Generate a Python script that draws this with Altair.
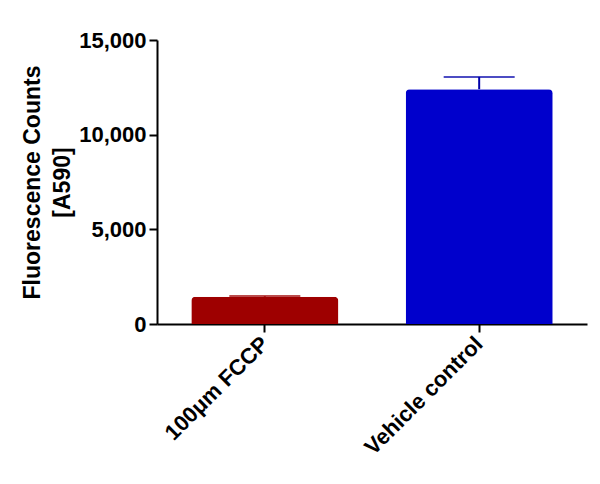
import altair as alt
import pandas as pd

categories = ["100μm FCCP", "Vehicle control"]
means = [1440, 12400]
sems = [35, 650]
colors = ["#9E0000", "#0000CC"]
err_colors = ["#9E0000", "#0000AA"]

df = pd.DataFrame({
    "cat": categories,
    "mean": means,
    "top": [m + s for m, s in zip(means, sems)],
    "color": colors,
    "ecolor": err_colors,
})

FONT = "Liberation Sans"

x_enc = alt.X("cat:N", sort=categories, title=None,
              scale=alt.Scale(paddingInner=0.314, paddingOuter=0.16),
              axis=alt.Axis(labelAngle=-45, labelAlign="right", labelBaseline="middle",
                            labelPadding=8, tickSize=8))

y_scale = alt.Scale(domain=[0, 15000], nice=False)

base = alt.Chart(df)

bars = base.mark_bar(cornerRadiusTopLeft=4, cornerRadiusTopRight=4).encode(
    x=x_enc,
    y=alt.Y("mean:Q", scale=y_scale,
            title=["Fluorescence Counts", "[A590]"],
            axis=alt.Axis(values=[0, 5000, 10000, 15000], format=",.0f", grid=False,
                          labelPadding=3, titlePadding=4, tickSize=8,
                          titleLineHeight=30)),
    color=alt.Color("color:N", scale=None),
)

rule = base.mark_rule(strokeWidth=2).encode(
    x=x_enc,
    y=alt.Y("mean:Q", scale=y_scale),
    y2="top:Q",
    color=alt.Color("ecolor:N", scale=None),
)

cap = base.mark_tick(thickness=2, size=71, orient="horizontal").encode(
    x=x_enc,
    y=alt.Y("top:Q", scale=y_scale),
    color=alt.Color("ecolor:N", scale=None),
)

chart = alt.layer(bars, rule, cap).properties(
    width=430, height=284,
    background="white",
    autosize=alt.AutoSizeParams(type="none"),
    padding={"left": 149, "top": 32, "right": 5, "bottom": 140},
).configure_view(stroke=None).configure_axis(
    labelFont=FONT, labelFontSize=22, labelFontWeight="bold", labelColor="black",
    titleFont=FONT, titleFontSize=23, titleFontWeight="bold", titleColor="black",
    domainColor="black", domainWidth=2, tickColor="black", tickWidth=2, grid=False,
)

chart.save("out.html", embed_options={"renderer": "svg", "actions": False})
